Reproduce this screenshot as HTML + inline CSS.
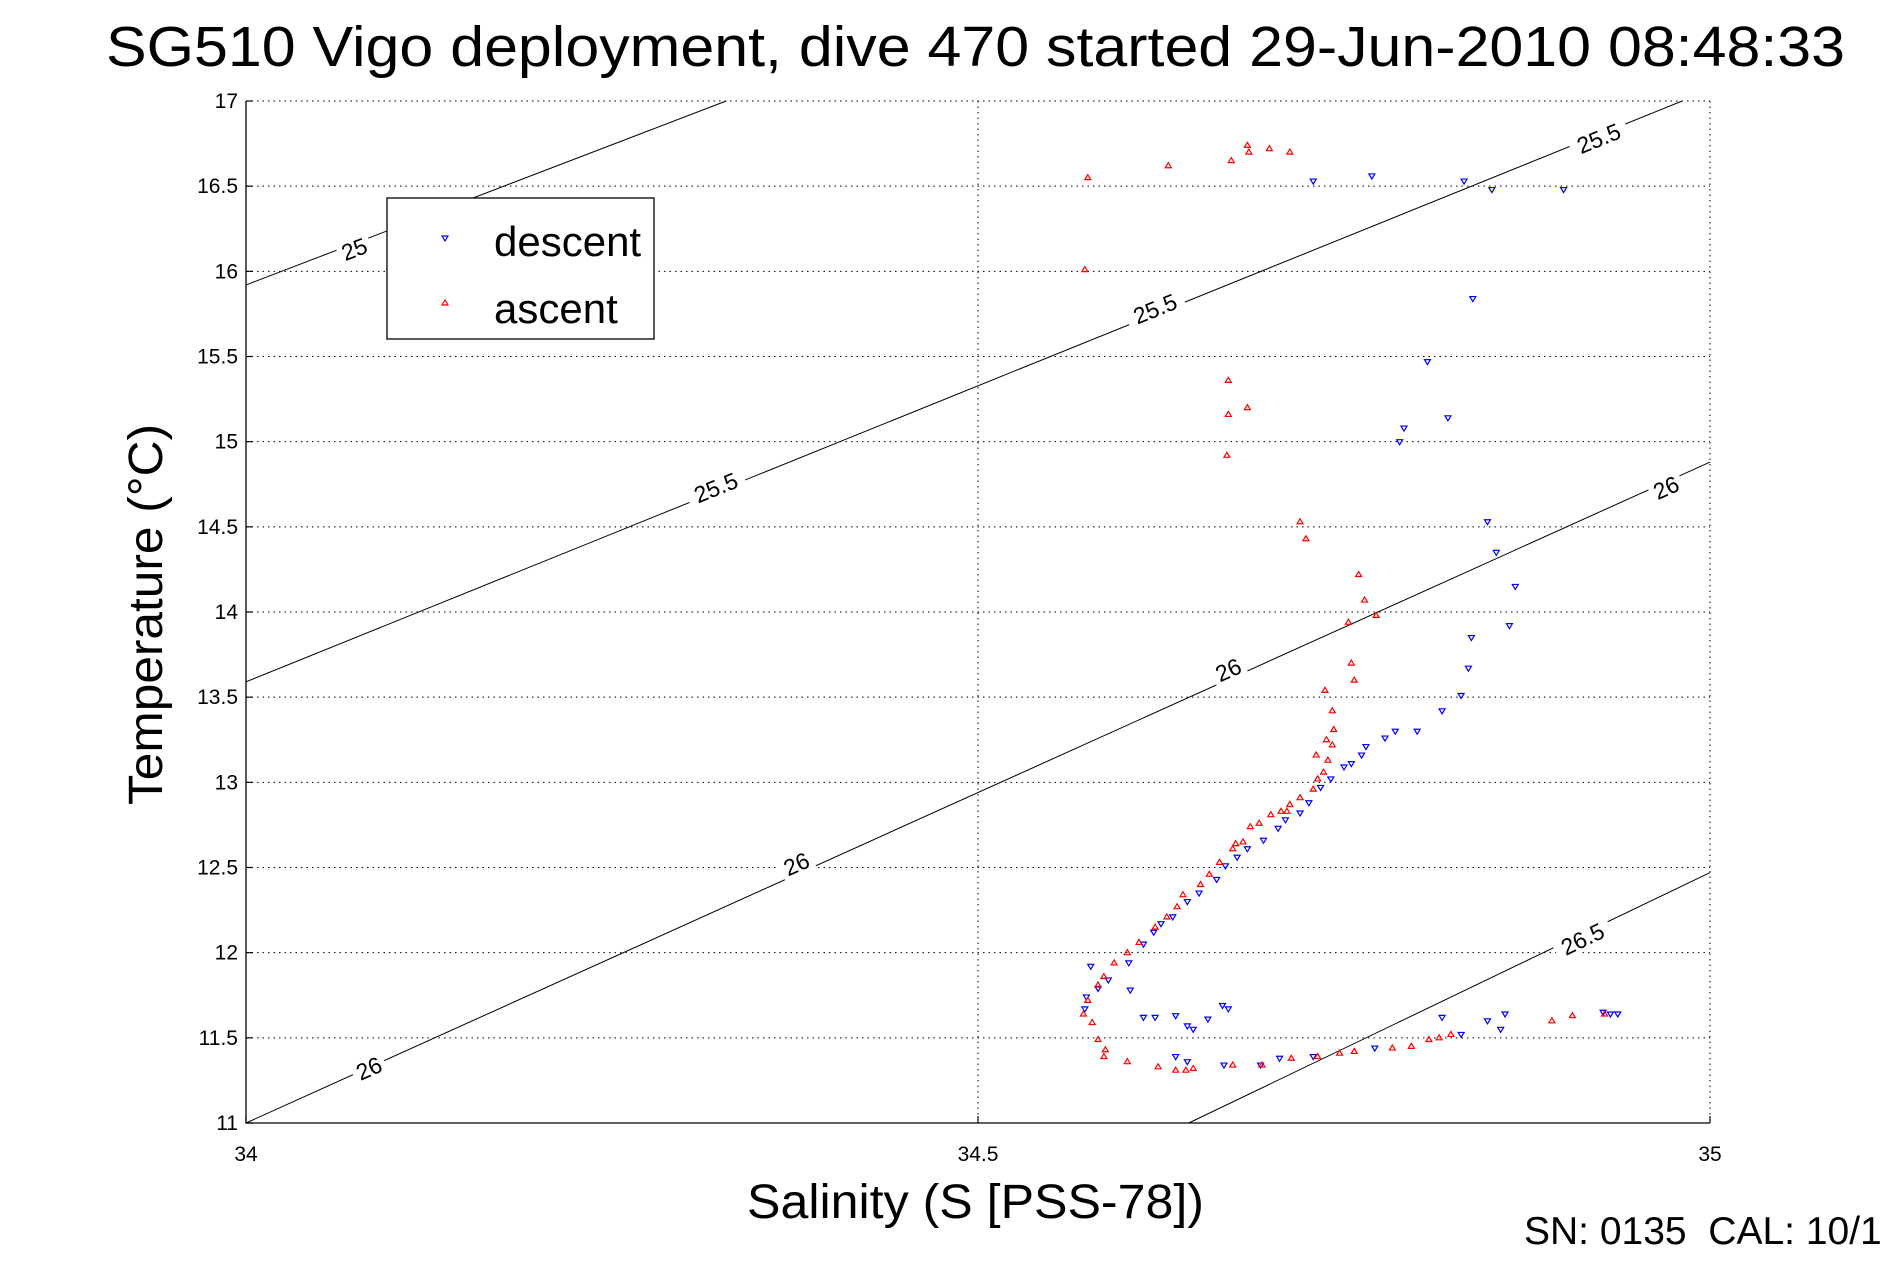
<!DOCTYPE html>
<html><head><meta charset="utf-8"><style>
html,body{margin:0;padding:0;background:#fff;}
svg{display:block;font-family:"Liberation Sans",sans-serif;}
</style></head><body>
<svg id="chart" width="1891" height="1262" viewBox="0 0 1891 1262" xmlns="http://www.w3.org/2000/svg">
<rect width="1891" height="1262" fill="#fff"/>
<text x="106" y="66" font-size="57" textLength="1739" lengthAdjust="spacingAndGlyphs">SG510 Vigo deployment, dive 470 started 29-Jun-2010 08:48:33</text>
<g id="grid"></g><g id="contours"></g><g id="marks"></g><g id="axes"></g>
<text x="747" y="1218" font-size="48" textLength="457" lengthAdjust="spacingAndGlyphs">Salinity (S [PSS-78])</text>
<text x="-190" y="0" font-size="48" textLength="381" lengthAdjust="spacingAndGlyphs" transform="translate(162,615) rotate(-90)">Temperature (°C)</text>
<text x="1524" y="1244" font-size="39" xml:space="preserve">SN: 0135  CAL: 10/1</text>
<g>
<rect x="387" y="198" width="267" height="141" fill="#fff" stroke="#000" stroke-width="1.3"/>
<path d="M442,236 h6 l-3,5 z" fill="none" stroke="#00f" stroke-width="1.2"/>
<text x="494" y="256" font-size="42">descent</text>
<path d="M442,305 h6 l-3,-5 z" fill="none" stroke="#f00" stroke-width="1.2"/>
<text x="494" y="323" font-size="42">ascent</text>
</g>
</svg>
<script>
const xTicks=[34,34.5,35];
const xTickLabels=["34","34.5","35"];
const yTicks=[11,11.5,12,12.5,13,13.5,14,14.5,15,15.5,16,16.5,17];
const yTickLabels=["11","11.5","12","12.5","13","13.5","14","14.5","15","15.5","16","16.5","17"];
const contourLevels=["25","25.5","26","26.5"];
const contourStartS=[34,34,34,34.644];
const contourStartT=[15.92,13.59,11,11];
const contourEndS=[34.328,34.981,35,35];
const contourEndT=[17,17,14.88,12.47];
const labelLevels=["25","25.5","25.5","25.5","26","26","26","26","26.5"];
const labelS=[34.074,34.321,34.621,34.924,34.084,34.376,34.671,34.970,34.913];
const labelT=[16.13,14.73,15.78,16.78,11.32,12.52,13.66,14.73,12.08];
const ascentS=[34.575,34.630,34.673,34.684,34.685,34.699,34.713,34.573,34.671,34.684,34.671,34.670,34.720,34.724,34.760,34.764,34.772,34.753,34.755,34.757,34.737,34.742,34.743,34.738,34.742,34.731,34.739,34.736,34.732,34.729,34.720,34.713,34.711,34.707,34.700,34.692,34.686,34.681,34.676,34.674,34.665,34.658,34.652,34.640,34.636,34.629,34.621,34.610,34.602,34.593,34.586,34.582,34.575,34.572,34.578,34.582,34.587,34.586,34.602,34.623,34.635,34.642,34.647,34.674,34.694,34.714,34.732,34.747,34.757,34.783,34.796,34.808,34.815,34.823,34.892,34.906,34.928];
const ascentT=[16.55,16.62,16.65,16.74,16.70,16.72,16.70,16.01,15.36,15.20,15.16,14.92,14.53,14.43,14.22,14.07,13.98,13.94,13.70,13.60,13.54,13.42,13.31,13.25,13.22,13.16,13.13,13.06,13.02,12.96,12.91,12.87,12.83,12.83,12.81,12.76,12.74,12.65,12.64,12.61,12.53,12.46,12.40,12.34,12.27,12.21,12.15,12.06,12.00,11.94,11.86,11.81,11.72,11.64,11.59,11.49,11.43,11.39,11.36,11.33,11.31,11.31,11.32,11.34,11.34,11.38,11.39,11.41,11.42,11.44,11.45,11.49,11.50,11.52,11.60,11.63,11.64];
const descentS=[34.729,34.769,34.832,34.851,34.900,34.838,34.807,34.791,34.788,34.821,34.848,34.854,34.867,34.863,34.837,34.835,34.830,34.817,34.800,34.785,34.778,34.765,34.762,34.755,34.750,34.741,34.734,34.726,34.720,34.710,34.705,34.695,34.684,34.677,34.669,34.663,34.651,34.643,34.633,34.625,34.620,34.613,34.603,34.604,34.589,34.582,34.574,34.573,34.577,34.613,34.621,34.635,34.643,34.647,34.657,34.667,34.671,34.635,34.643,34.668,34.693,34.706,34.729,34.771,34.830,34.817,34.848,34.860,34.857,34.927,34.932,34.937];
const descentT=[16.53,16.56,16.53,16.48,16.48,15.84,15.47,15.08,15.00,15.14,14.53,14.35,14.15,13.92,13.85,13.67,13.51,13.42,13.30,13.30,13.26,13.21,13.16,13.11,13.09,13.02,12.97,12.88,12.82,12.78,12.73,12.66,12.61,12.56,12.51,12.43,12.35,12.30,12.21,12.17,12.12,12.05,11.94,11.78,11.84,11.79,11.74,11.67,11.92,11.62,11.62,11.63,11.57,11.55,11.61,11.69,11.67,11.39,11.36,11.34,11.34,11.38,11.39,11.44,11.52,11.62,11.60,11.64,11.55,11.65,11.64,11.64];

const L=246,R=1710,T=101,B=1123,S0=34,S1=35,T0=11,T1=17;
const xs=s=>L+(s-S0)/(S1-S0)*(R-L);
const ys=t=>B-(t-T0)/(T1-T0)*(B-T);
const NS="http://www.w3.org/2000/svg";
function mk(tag,parent,attrs){const e=document.createElementNS(NS,tag);for(const k in attrs)e.setAttribute(k,attrs[k]);document.getElementById(parent).appendChild(e);return e;}

yTicks.forEach((v,i)=>{
  const g=mk('line','grid',{x1:L,x2:R,y1:ys(v),y2:ys(v),stroke:'#000','stroke-width':1,'stroke-dasharray':'1.5,4'});
  
  
  const t=mk('line','axes',{x1:L,x2:L+7,y1:ys(v),y2:ys(v),stroke:'#000','stroke-width':1.2});
  
  
  const lb=mk('text','axes',{x:L-8,y:ys(v)+7,'font-size':21,'text-anchor':'end'});
  lb.textContent=yTickLabels[i];
  
  
});
xTicks.forEach((v,i)=>{
  const g=mk('line','grid',{x1:xs(v),x2:xs(v),y1:T,y2:B,stroke:'#000','stroke-width':1,'stroke-dasharray':'1.5,4'});
  
  
  const t=mk('line','axes',{x1:xs(v),x2:xs(v),y1:B,y2:B-7,stroke:'#000','stroke-width':1.2});
  
  
  const lb=mk('text','axes',{x:xs(v),y:1161,'font-size':21,'text-anchor':'middle'});
  lb.textContent=xTickLabels[i];
  
  
});
const ax=mk('path','axes',{d:`M${L},${T} V${B} H${R}`,fill:'none',stroke:'#000','stroke-width':1.3});



contourLevels.forEach((lv,i)=>{
  const c=mk('line','contours',{x1:xs(contourStartS[i]),y1:ys(contourStartT[i]),x2:xs(contourEndS[i]),y2:ys(contourEndT[i]),stroke:'#000','stroke-width':1});
  
  
});
labelLevels.forEach((lv,i)=>{
  const k=contourLevels.indexOf(lv);
  const ang=Math.atan2(ys(contourEndT[k])-ys(contourStartT[k]),xs(contourEndS[k])-xs(contourStartS[k]))*180/Math.PI;
  const x=xs(labelS[i]),y=ys(labelT[i]);
  const w=lv.length*13+8;
  const r=mk('rect','contours',{x:x-w/2,y:y-12,width:w,height:24,fill:'#fff',transform:`rotate(${ang},${x},${y})`});
  
  
  const t=mk('text','contours',{x:x,y:y+8,'font-size':23,'text-anchor':'middle',transform:`rotate(${ang},${x},${y})`});
  t.textContent=lv;
  
  
});

descentS.forEach((s,i)=>{
  const x=xs(s),y=ys(descentT[i]);
  const p=mk('path','marks',{d:`M${x-3},${y-2} h6 l-3,5 z`,fill:'none',stroke:'#00f','stroke-width':1.2});
  
  
});
ascentS.forEach((s,i)=>{
  const x=xs(s),y=ys(ascentT[i]);
  const p=mk('path','marks',{d:`M${x-3},${y+2} h6 l-3,-5 z`,fill:'none',stroke:'#f00','stroke-width':1.2});
  
  
});
</script>
</body></html>
